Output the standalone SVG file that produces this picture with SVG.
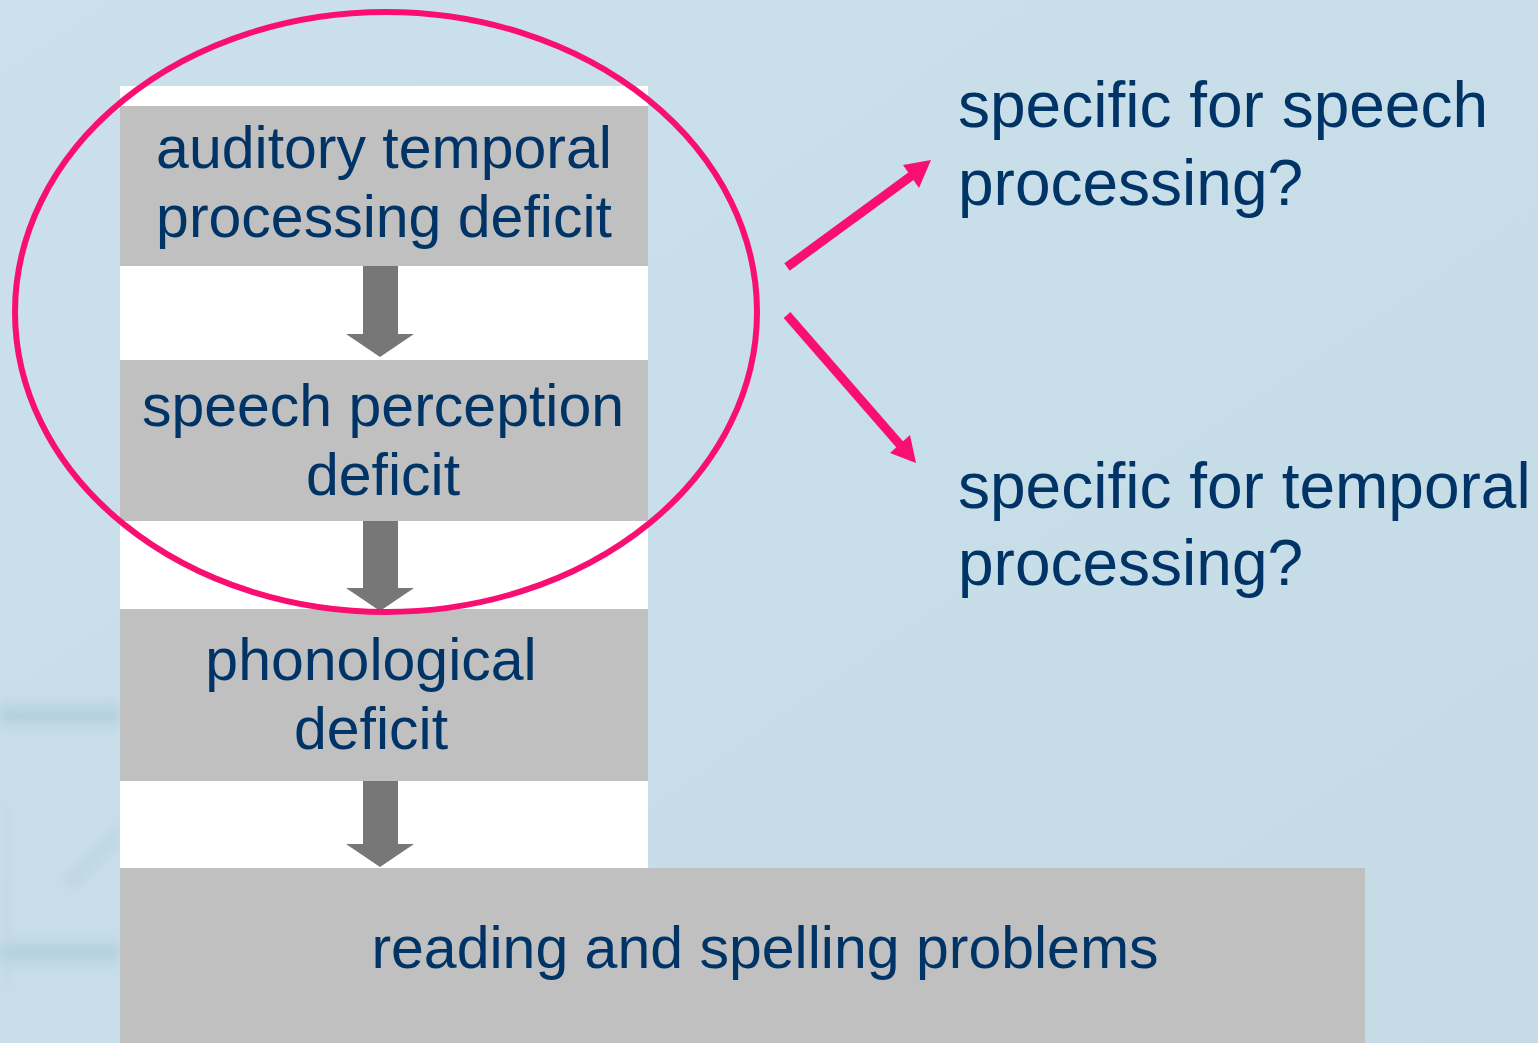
<svg xmlns="http://www.w3.org/2000/svg" width="1538" height="1043" viewBox="0 0 1538 1043">
  <defs>
    <linearGradient id="bg" x1="0" y1="0" x2="1" y2="1">
      <stop offset="0" stop-color="#cbe0eb"/>
      <stop offset="1" stop-color="#c4dbe5"/>
    </linearGradient>
    <linearGradient id="band" x1="0" y1="0" x2="0" y2="1">
      <stop offset="0" stop-color="#c6dbe7" stop-opacity="0"/>
      <stop offset="0.5" stop-color="#a9c8da"/>
      <stop offset="1" stop-color="#c6dbe7" stop-opacity="0"/>
    </linearGradient>
    <filter id="soft" x="-10%" y="-10%" width="120%" height="120%">
      <feGaussianBlur stdDeviation="4"/>
    </filter>
    <style>
      .box { fill: #c0c0c0; }
      .lbl { font-family: "Liberation Sans", Arial, sans-serif; font-size: 59px; fill: #003366; text-anchor: middle; }
      .q { font-family: "Liberation Sans", Arial, sans-serif; font-size: 64px; fill: #003366; }
      .down { fill: #777777; }
      .pink { stroke: #f90f72; stroke-width: 9; fill: none; }
      .pinkhead { fill: #f90f72; }
    </style>
  </defs>

  <!-- background -->
  <rect width="1538" height="1043" fill="url(#bg)"/>
  <!-- faint water texture along the lower left edge -->
  <g filter="url(#soft)" opacity="0.75">
    <rect x="0" y="690" width="120" height="50" fill="url(#band)"/>
    <rect x="0" y="930" width="120" height="45" fill="url(#band)"/>
    <path d="M60,880 L120,820 L120,845 L75,890 Z" fill="#b3cedd" opacity="0.5"/>
    <rect x="4" y="805" width="6" height="180" fill="#b9d2e0" opacity="0.6"/>
  </g>

  <!-- white panel behind the chain -->
  <rect x="120" y="86" width="528" height="782" fill="#ffffff"/>

  <g id="node-auditory">
    <rect class="box" x="120" y="106" width="528" height="160"/>
    <text class="lbl" x="384" y="168">auditory temporal</text>
    <text class="lbl" x="384" y="237">processing deficit</text>
  </g>

  <g id="node-speech">
    <rect class="box" x="120" y="360" width="528" height="161"/>
    <text class="lbl" x="383" y="426">speech perception</text>
    <text class="lbl" x="383" y="495">deficit</text>
  </g>

  <g id="node-phonological">
    <rect class="box" x="120" y="609" width="528" height="172"/>
    <text class="lbl" x="371" y="680">phonological</text>
    <text class="lbl" x="371" y="749">deficit</text>
  </g>

  <g id="node-reading">
    <rect class="box" x="120" y="868" width="1245" height="175"/>
    <text class="lbl" x="765" y="968">reading and spelling problems</text>
  </g>

  <g id="node-q-speech">
    <text class="q" x="958" y="127">specific for speech</text>
    <text class="q" x="958" y="205">processing?</text>
  </g>

  <g id="node-q-temporal">
    <text class="q" x="958" y="508">specific for temporal</text>
    <text class="q" x="958" y="585">processing?</text>
  </g>

  <g id="connectors">
    <!-- block arrows down the chain -->
    <path class="down" d="M363,266 H398 V334 H414 L380,357 L346,334 H363 Z"/>
    <path class="down" d="M363,521 H398 V588 H414 L380,611 L346,588 H363 Z"/>
    <path class="down" d="M363,781 H398 V844 H414 L380,867 L346,844 H363 Z"/>
    <!-- highlight ring around the first two deficits -->
    <ellipse cx="386" cy="312" rx="371" ry="300" fill="none" stroke="#f90f72" stroke-width="6"/>
    <!-- arrows to the open questions -->
    <line class="pink" x1="787" y1="267" x2="914" y2="174"/>
    <path class="pinkhead" d="M931,160 L903,165 L919,188 Z"/>
    <line class="pink" x1="787" y1="315" x2="902" y2="447"/>
    <path class="pinkhead" d="M916,463 L890,453 L910,435 Z"/>
  </g>
</svg>
